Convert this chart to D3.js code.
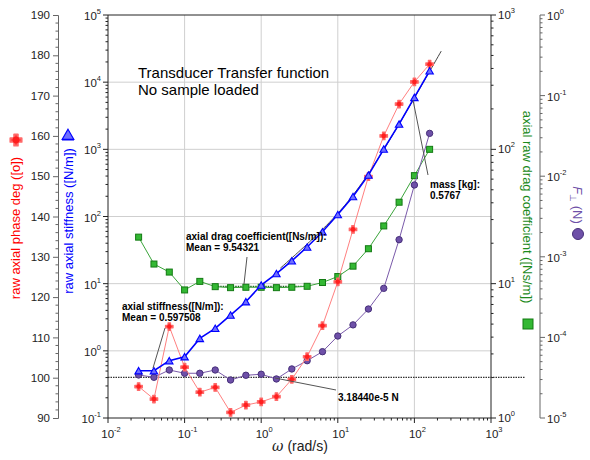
<!DOCTYPE html>
<html>
<head>
<meta charset="utf-8">
<script src="https://cdn.jsdelivr.net/npm/d3@7"></script>
<style>
  body { margin: 0; background: #fff; }
  svg { font-family: "Liberation Sans", Arial, sans-serif; }
</style>
</head>
<body>
<svg id="chart" width="590" height="460"></svg>
<script>
// frequencies (rad/s)
const omega = [0.0251, 0.0398, 0.0631, 0.1, 0.158, 0.251, 0.398, 0.631, 1, 1.58,
  2.51, 3.98, 6.31, 10, 15.8, 25.1, 39.8, 63.1, 100, 158];
// raw axial phase (deg)
const phase = [97.8, 94.7, 112.7, 102.6, 96.4, 97.6, 91.4, 93.2, 94.0, 95.3,
  99.6, 105.2, 112.9, 123.8, 136.8, 149.9, 160.0, 167.9, 173.4, 177.8];
// raw axial stiffness (N/m)
const stiffness = [0.506, 0.506, 0.713, 0.817, 1.53, 2.16, 3.41, 5.38, 9.53, 14.1,
  21.9, 35.1, 59.2, 107, 198, 413, 1007, 2371, 5920, 14730];
// axial raw drag coefficient (Ns/m)
const drag = [22.2, 14.0, 12.2, 8.98, 10.4, 9.5, 9.34, 9.4, 9.4, 9.34,
  9.4, 9.56, 10.2, 11.3, 13.5, 18.2, 26.9, 40.4, 63.7, 100];
// F perp (N)
const force = [3.42e-5, 3.20e-5, 3.94e-5, 3.59e-5, 3.59e-5, 3.94e-5, 2.96e-5, 3.39e-5, 3.49e-5, 3.05e-5,
  4.06e-5, 5.14e-5, 6.65e-5, 1.04e-4, 1.43e-4, 2.25e-4, 4.06e-4, 1.63e-3, 7.78e-3, 0.034];

// fit results shown in the annotations
const massKg = 0.5767;
const dragMean = 9.54321;
const stiffMean = 0.597508;
const forceMean = 3.18440e-5;

const svg = d3.select("#chart");
const L = 108, R = 491, T = 15, B = 418;

const x = d3.scaleLog().domain([0.01, 1000]).range([L, R]);
const yP = d3.scaleLinear().domain([90, 190]).range([B, T]);
const yK = d3.scaleLog().domain([0.1, 1e5]).range([B, T]);
const yC = d3.scaleLog().domain([1, 1000]).range([B, T]);
const yF = d3.scaleLog().domain([1e-5, 1]).range([B, T]);

const decades = (s) => {
  const [a, b] = s.domain().map(Math.log10);
  return d3.range(Math.round(a), Math.round(b) + 1);
};
const minors = (s) => {
  const out = [];
  decades(s).slice(0, -1).forEach(e => { for (let k = 2; k < 10; k++) out.push(k * Math.pow(10, e)); });
  return out;
};

// grid
const grid = svg.append("g").attr("stroke", "#cfcfcf").attr("stroke-width", 1);
[-1, 0, 1, 2].forEach(e => {
  grid.append("line").attr("x1", x(Math.pow(10, e))).attr("x2", x(Math.pow(10, e)))
    .attr("y1", T).attr("y2", B);
});
[0, 1, 2, 3, 4].forEach(e => {
  grid.append("line").attr("y1", yK(Math.pow(10, e))).attr("y2", yK(Math.pow(10, e)))
    .attr("x1", L).attr("x2", R);
});

// log axis with superscript labels
function logAxis(scale, pos, orient, color, dyLab) {
  const g = svg.append("g");
  const vert = orient === "left" || orient === "right";
  const dir = (orient === "left" || orient === "top") ? -1 : 1;
  g.append("line").attr("stroke", color)
    .attr("x1", vert ? pos : scale.range()[0]).attr("x2", vert ? pos : scale.range()[1])
    .attr("y1", vert ? scale.range()[0] : pos).attr("y2", vert ? scale.range()[1] : pos);
  const tick = (v, len) => {
    const p = scale(v);
    g.append("line").attr("stroke", color)
      .attr("x1", vert ? pos : p).attr("x2", vert ? pos + dir * len : p)
      .attr("y1", vert ? p : pos).attr("y2", vert ? p : pos + dir * len);
  };
  minors(scale).forEach(v => tick(v, 2.5));
  decades(scale).forEach(e => {
    const v = Math.pow(10, e);
    tick(v, 5);
    const p = scale(v);
    const t = g.append("text").attr("font-size", 11.5).attr("fill", "#222");
    if (vert) {
      t.attr("x", pos + dir * 7).attr("y", p + 5 + (dyLab || 0))
        .attr("text-anchor", orient === "left" ? "end" : "start");
    } else {
      t.attr("x", p + 3).attr("y", pos + 20).attr("text-anchor", "middle");
    }
    t.append("tspan").text("10");
    t.append("tspan").attr("font-size", 7.5).attr("dy", -6).text(e);
  });
}

logAxis(x, B, "bottom", "#222");
logAxis(yK, L, "left", "#222");
logAxis(yC, R, "right", "#222", -1);
logAxis(yF, 540, "right", "#666");

// top frame
svg.append("line").attr("x1", L).attr("x2", R).attr("y1", T).attr("y2", T).attr("stroke", "#222");

// phase axis (linear)
const pAx = svg.append("g").attr("transform", `translate(58,0)`)
  .call(d3.axisLeft(yP).tickValues(d3.range(90, 191, 10)).tickSize(5).tickPadding(3));
pAx.append("g").selectAll("line").data(d3.range(92, 190, 2).filter(v => v % 10 !== 0))
  .join("line").attr("x1", 0).attr("x2", -2.5).attr("y1", d => yP(d)).attr("y2", d => yP(d));
pAx.select(".domain").attr("stroke", "#666");
pAx.selectAll("line").attr("stroke", "#666");
pAx.selectAll("text").attr("font-size", 11.5).attr("fill", "#222")
  .attr("font-family", "Liberation Sans, Arial, sans-serif");

// mean / fit lines
svg.append("line").attr("x1", L).attr("x2", 525).attr("y1", yF(forceMean)).attr("y2", yF(forceMean))
  .attr("stroke", "#333").attr("stroke-width", 1.3).attr("stroke-dasharray", "1.5,1");
svg.append("line").attr("x1", x(0.251)).attr("x2", x(3.98)).attr("y1", yC(dragMean)).attr("y2", yC(dragMean))
  .attr("stroke", "#1b5e1b").attr("stroke-width", 1.3).attr("stroke-dasharray", "1.5,1");

// fitted stiffness |k0 - m w^2 + i c w|
const fitW = d3.range(0.25, 2.37, 0.02).map(e => Math.pow(10, e));
svg.append("path")
  .datum(fitW)
  .attr("fill", "none").attr("stroke", "#444").attr("stroke-width", 1)
  .attr("d", d3.line().x(w => x(w))
    .y(w => yK(Math.hypot(stiffMean - massKg * w * w, dragMean * w))));

const rows = omega.map((w, i) => ({ w, p: phase[i], k: stiffness[i], c: drag[i], f: force[i] }));

function series(key, scale, lineColor, lineWidth, marker) {
  const g = svg.append("g");
  g.append("path").datum(rows)
    .attr("fill", "none").attr("stroke", lineColor).attr("stroke-width", lineWidth)
    .attr("d", d3.line().x(d => x(d.w)).y(d => scale(d[key])));
  g.selectAll("g").data(rows).join("g")
    .attr("transform", d => `translate(${x(d.w)},${scale(d[key])})`)
    .each(function () { marker(d3.select(this)); });
}

const sq = (g, s) => g.append("rect").attr("x", -s / 2).attr("y", -s / 2).attr("width", s).attr("height", s)
  .attr("fill", "#33b833").attr("stroke", "#137a13").attr("stroke-width", 1);
const circ = (g, r) => g.append("circle").attr("r", r).attr("fill", "#6e50a8").attr("stroke", "#47307a").attr("stroke-width", 1);
const redDot = (g, r) => {
  g.append("path").attr("d", d3.symbol(d3.symbolCross, r * r * 5.5)())
    .attr("fill", "#ff4a4a").attr("stroke", "#ff6a6a").attr("stroke-width", r * 0.5).attr("stroke-linejoin", "round");
  g.append("circle").attr("r", r * 0.95).attr("fill", "#ff1f1f");
};
const tri = (g, s) => g.append("path").attr("d", d3.symbol(d3.symbolTriangle, s)()).attr("transform", "translate(0,1)")
  .attr("fill", "#6f6fff").attr("stroke", "#0000ff").attr("stroke-width", 1.1);

series("c", yC, "#3aa43a", 1, g => sq(g, 6));
series("f", yF, "#7a5aaa", 1, g => circ(g, 3.2));
series("p", yP, "#ff8080", 1, g => redDot(g, 2.4));
series("k", yK, "#0000ff", 1.6, g => tri(g, 24));

// annotations
const ann = svg.append("g").attr("font-size", 10).attr("font-weight", "bold").attr("fill", "#000");
function note(x0, y0, lines) {
  lines.forEach((s, i) => ann.append("text").attr("x", x0).attr("y", y0 + i * 10.5).text(s));
}
note(186, 240, ["axial drag coefficient([Ns/m]):", "Mean = 9.54321"]);
note(122, 310, ["axial stiffness([N/m]):", "Mean = 0.597508"]);
note(430, 188, ["mass [kg]:", "0.5767"]);
note(338, 401, ["3.18440e-5 N"]);

const leader = svg.append("g").attr("stroke", "#555").attr("stroke-width", 1);
[[247, 257, 244, 284], [165, 328, 153, 368], [413, 100, 428, 175], [275, 378, 336, 390]].forEach(d => {
  leader.append("line").attr("x1", d[0]).attr("y1", d[1]).attr("x2", d[2]).attr("y2", d[3]);
});

// title
svg.append("text").attr("x", 138).attr("y", 78).attr("font-size", 15).text("Transducer Transfer function");
svg.append("text").attr("x", 138).attr("y", 95).attr("font-size", 15).text("No sample loaded");

// x label
const xl = svg.append("text").attr("x", 300).attr("y", 451).attr("text-anchor", "middle").attr("font-size", 14).attr("fill", "#222");
xl.append("tspan").attr("font-style", "italic").attr("font-family", "DejaVu Serif, serif").text("ω");
xl.append("tspan").text("  (rad/s)");

// axis titles
const lab1 = svg.append("g").attr("transform", "translate(20,228) rotate(-90)");
lab1.append("text").attr("text-anchor", "middle").attr("font-size", 13).attr("fill", "#ff0000")
  .text("raw axial phase deg  ([o])");
redDot(svg.append("g").attr("transform", "translate(16,140)"), 3.6);

const lab2 = svg.append("g").attr("transform", "translate(73,221) rotate(-90)");
lab2.append("text").attr("text-anchor", "middle").attr("font-size", 13).attr("fill", "#0000ff")
  .text("raw axial stiffness  ([N/m])");
tri(svg.append("g").attr("transform", "translate(68,135)"), 60);
svg.append("line").attr("x1", 62).attr("x2", 74).attr("y1", 140).attr("y2", 140).attr("stroke", "#0000ff");

const lab3 = svg.append("g").attr("transform", "translate(523,207) rotate(90)");
lab3.append("text").attr("text-anchor", "middle").attr("font-size", 13).attr("fill", "#1c8a1c")
  .text("axial raw drag coefficient  ([Ns/m])");
sq(svg.append("g").attr("transform", "translate(528,324)"), 10);

const lab4 = svg.append("g").attr("transform", "translate(573,205) rotate(90)");
const t4 = lab4.append("text").attr("text-anchor", "middle").attr("font-size", 13).attr("fill", "#6e50a8");
t4.append("tspan").attr("font-style", "italic").text("F");
t4.append("tspan").attr("font-size", 9).attr("dy", 3).text("⊥");
t4.append("tspan").attr("dy", -3).text(" (N)");
circ(svg.append("g").attr("transform", "translate(578,234)"), 5.5);
</script>
</body>
</html>
